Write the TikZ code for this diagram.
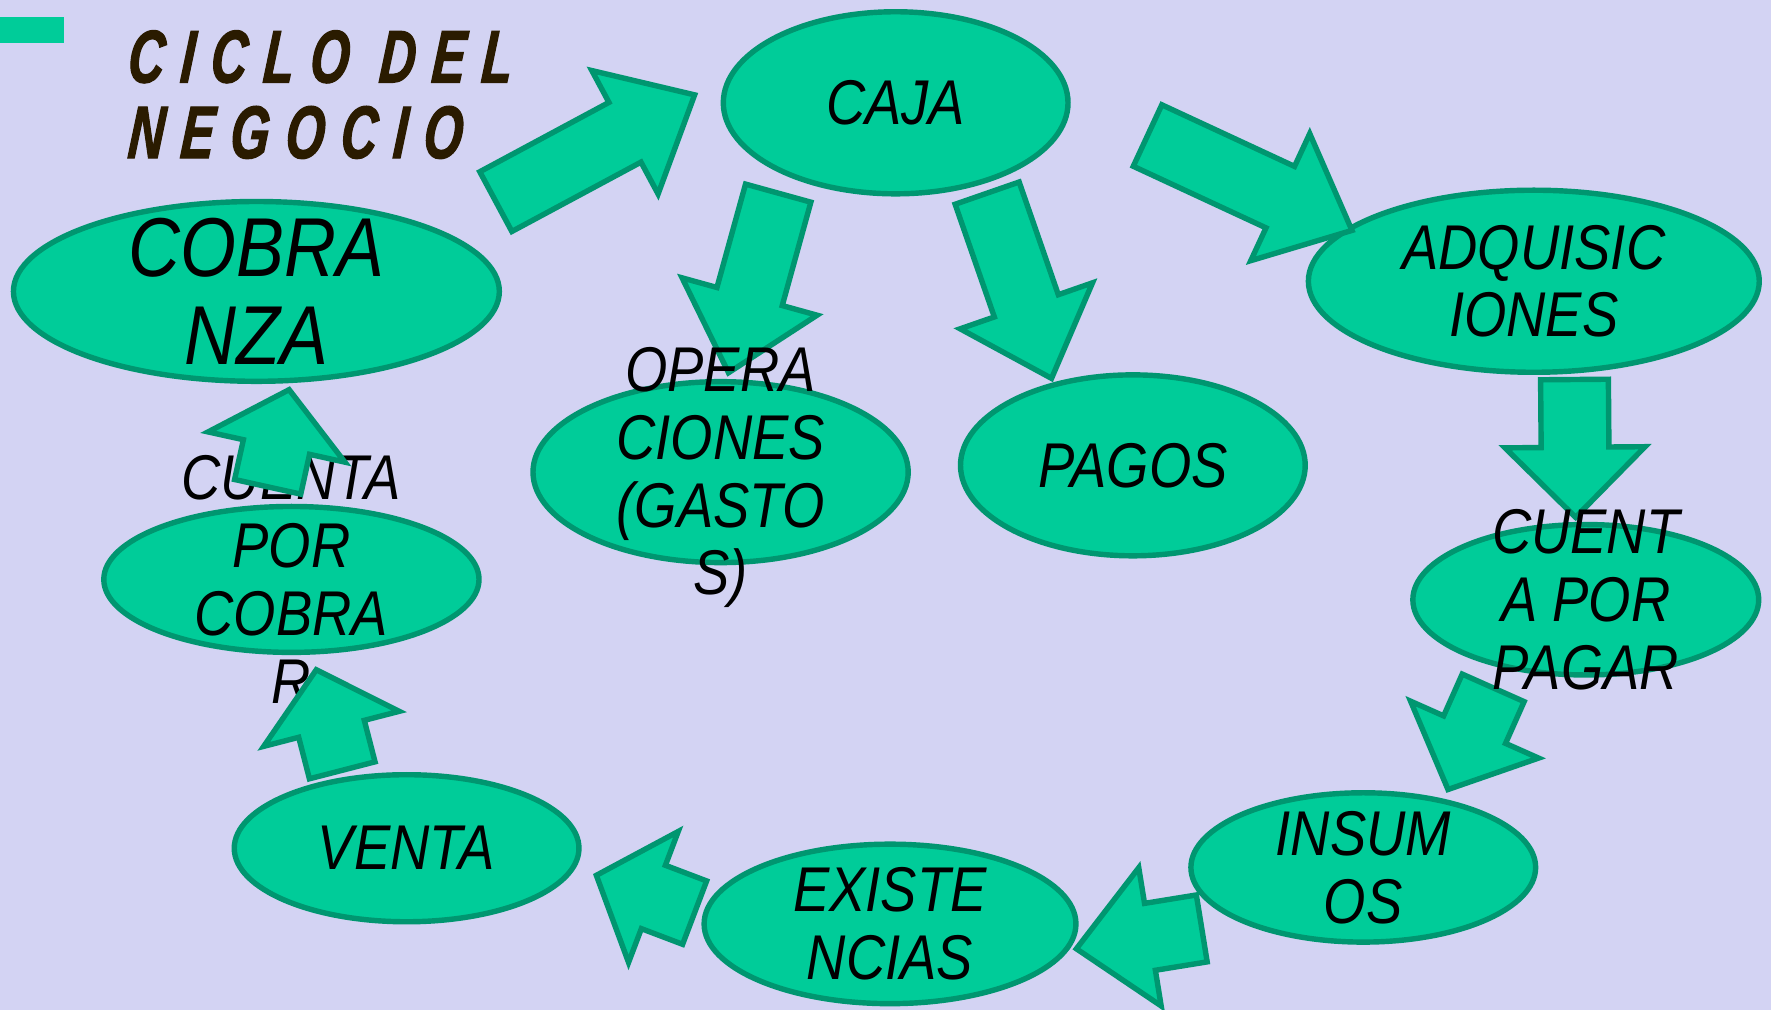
\documentclass[tikz,border=0pt]{standalone}
\usepackage{fontspec}
\setmainfont{Liberation Sans}
\newfontfamily\ovalfont[FakeStretch=0.86]{Liberation Sans}
\newfontfamily\titlefont[FakeStretch=0.67,LetterSpace=22,FakeBold=1.6,FakeSlant=0.08]{Liberation Sans}
\usetikzlibrary{calc,shapes.geometric}
\definecolor{fondo}{RGB}{211,211,243}
\definecolor{verde}{RGB}{0,204,153}
\definecolor{verdeosc}{RGB}{0,150,112}
\definecolor{tinta}{RGB}{42,27,0}
\tikzset{
    %Define standard shapes
    oval/.style={
      ellipse,
      draw=verdeosc, line width=2.4pt,
      fill=verde,
      inner sep=0pt},
    etiq/.style={
      align=center,
      font=\ovalfont\itshape\fontsize{28}{30}\selectfont},
    flecha/.style={
      draw=verdeosc, line width=2.4pt,
      fill=verde,
      line join=miter},
    titulo/.style={
      anchor=base west,
      inner sep=0pt,
      text=tinta,
      font=\titlefont\bfseries\itshape\fontsize{33}{35}\selectfont},
}
% block arrow: [head length]{tail}{tip}
\newcommand{\flechon}[3][33pt]{%
  \draw[flecha] let \p1=($(#3)-(#2)$), \n1={atan2(\y1,\x1)} in
    ($(#2)+(\n1+90:15pt)$)
    -- ($(#3)+(\n1+180:#1)+(\n1+90:15pt)$)
    -- ($(#3)+(\n1+180:#1)+(\n1+90:31pt)$)
    -- (#3)
    -- ($(#3)+(\n1+180:#1)+(\n1-90:31pt)$)
    -- ($(#3)+(\n1+180:#1)+(\n1-90:15pt)$)
    -- ($(#2)+(\n1-90:15pt)$)
    -- cycle;
}
\begin{document}
\begin{tikzpicture}[x=0.5pt,y=-0.5pt]
    \fill[fondo] (0,0) rectangle (1568,894);
    \useasboundingbox (0,0) rectangle (1568,894);
    \fill[verde] (0,15) rectangle (57,38);
    \node (tit1) [titulo] at (112,73) {CICLO DEL};
    \node (tit2) [titulo] at (112,140) {NEGOCIO};

    % ovals
    \node (caja) [oval, minimum width=152.6pt, minimum height=80.6pt] at (793,91) {};
    \node (cobranza) [oval, minimum width=215.1pt, minimum height=79.6pt] at (227,258) {};
    \node (adquis) [oval, minimum width=199.6pt, minimum height=80.6pt] at (1358,249) {};
    \node (operac) [oval, minimum width=166.1pt, minimum height=80.1pt] at (638,418) {};
    \node (pagos) [oval, minimum width=152.6pt, minimum height=80.1pt] at (1003,412) {};
    \node (cxp) [oval, minimum width=153.1pt, minimum height=66.6pt] at (1404,531) {};
    \node (insumos) [oval, minimum width=152.6pt, minimum height=66.1pt] at (1207,768) {};
    \node (exist) [oval, minimum width=164.6pt, minimum height=70.6pt] at (788,818) {};
    \node (venta) [oval, minimum width=152.6pt, minimum height=65.1pt] at (360,751) {};
    \node (cxc) [oval, minimum width=166.1pt, minimum height=64.6pt] at (258,513) {};

    % arrow ends
    \coordinate (f1a) at (439,178.5);   \coordinate (f1b) at (615,84);
    \coordinate (f2a) at (689,171);     \coordinate (f2b) at (645,330);
    \coordinate (f3a) at (874,171);     \coordinate (f3b) at (931,335);
    \coordinate (f4a) at (1016,120);    \coordinate (f4b) at (1197,204);
    \coordinate (f5a) at (1394,336);    \coordinate (f5b) at (1395,458);
    \coordinate (f6a) at (1322,609);    \coordinate (f6b) at (1282,699);
    \coordinate (f7a) at (1064,822);    \coordinate (f7b) at (953,840);
    \coordinate (f8a) at (615,808);     \coordinate (f8b) at (528,775);
    \coordinate (f9a) at (303,682);     \coordinate (f9b) at (280,593);
    \coordinate (f10a) at (237,431);    \coordinate (f10b) at (256,345);

    \flechon[35pt]{f1a}{f1b}
    \flechon[35pt]{f2a}{f2b}
    \flechon[34pt]{f3a}{f3b}
    \flechon[35pt]{f4a}{f4b}
    \flechon[31pt]{f5a}{f5b}
    \flechon[29pt]{f6a}{f6b}
    \flechon[33pt]{f7a}{f7b}
    \flechon[27pt]{f8a}{f8b}

    % texts
    \node (caja-t) [etiq] at (caja) {CAJA};
    \node (cobranza-t) [etiq, font=\ovalfont\itshape\fontsize{37}{39}\selectfont] at (cobranza) {COBRA\\NZA};
    \node (adquis-t) [etiq] at (adquis) {ADQUISIC\\IONES};
    \node (operac-t) [etiq] at ([yshift=-2.5pt]operac) {OPERA\\CIONES\\(GASTO\\S)};
    \node (pagos-t) [etiq] at (pagos) {PAGOS};
    \node (cxp-t) [etiq] at (cxp) {CUENT\\A POR\\PAGAR};
    \node (insumos-t) [etiq] at (insumos) {INSUM\\OS};
    \node (exist-t) [etiq] at (exist) {EXISTE\\NCIAS};
    \node (venta-t) [etiq] at (venta) {VENTA};
    \node (cxc-t) [etiq] at (cxc) {CUENTA\\POR\\COBRA\\R};

    \flechon[27pt]{f9a}{f9b}
    \flechon[26pt]{f10a}{f10b}
\end{tikzpicture}
\end{document}
